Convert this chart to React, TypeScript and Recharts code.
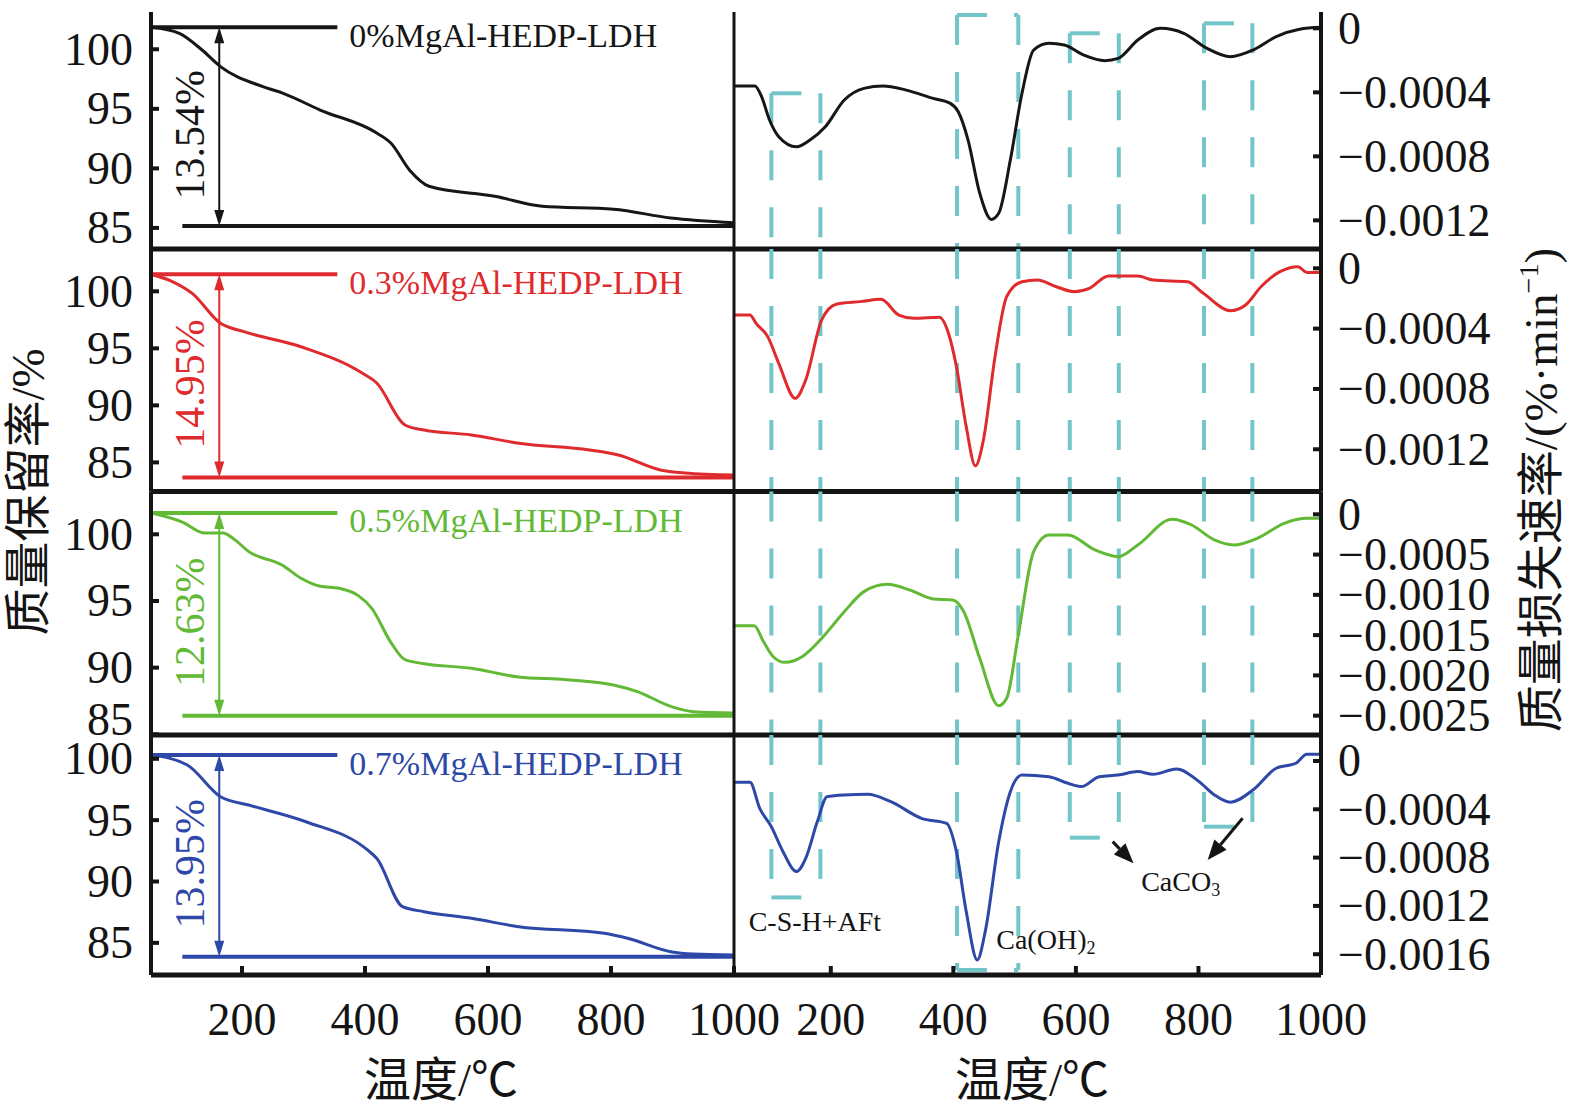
import React from 'react';
import { LineChart, Line, XAxis, YAxis, ReferenceLine, ReferenceDot } from 'recharts';

type Pt = [number, number];

const W = 1575;
const H = 1115;
const SERIF = '"Liberation Serif", "Times New Roman", "Noto Sans CJK SC", serif';
const INK = '#141414';
const BOX_COLOR = '#72c5c9';

// ---- categories / labels ----
const SAMPLES = ['0%MgAl-HEDP-LDH', '0.3%MgAl-HEDP-LDH', '0.5%MgAl-HEDP-LDH', '0.7%MgAl-HEDP-LDH'];
const MASS_LOSS_LABELS = ['13.54%', '14.95%', '12.63%', '13.95%'];
const SAMPLE_COLORS = ['#161616', '#df2a2e', '#62b935', '#2d48a7'];

// ---- ticks ----
const TEMP_TICKS = [200, 400, 600, 800, 1000];
const TG_TICKS = [85, 90, 95, 100];
const DTG_TICKS_A = [0, -0.0004, -0.0008, -0.0012];
const DTG_TICKS_B = [0, -0.0005, -0.001, -0.0015, -0.002, -0.0025];
const DTG_TICKS_C = [0, -0.0004, -0.0008, -0.0012, -0.0016];
const DTG_TICKS = [DTG_TICKS_A, DTG_TICKS_A, DTG_TICKS_B, DTG_TICKS_C];

// ---- axis ranges ----
const TG_T_RANGE = [52, 1000];
const DTG_T_RANGE = [42, 1000];
const TG_RANGES = [[83.23, 103.13], [82.45, 103.71], [84.95, 103.21], [82.38, 101.94]];
const DTG_RANGES = [[-0.001379, 0.000102], [-0.00148, 0.000128], [-0.00274, 0.000283], [-0.001772, 0.000215]];

// ---- TG curves (temperature, mass retention %) ----
const tg0: Pt[] = [[52, 101.85], [98, 101.34], [135, 99.94], [165, 98.54], [234, 96.86], [267, 96.3], [327, 94.9], [419, 92.97], [442, 92.13], [473, 89.82], [504, 88.5], [611, 87.66], [688, 86.82], [804, 86.57], [897, 85.84], [1000, 85.44]];
const tg1: Pt[] = [[52, 101.49], [85, 100.9], [119, 99.82], [165, 97.2], [203, 96.46], [296, 95.14], [396, 92.81], [419, 91.96], [465, 88.28], [496, 87.84], [573, 87.41], [650, 86.68], [765, 86.09], [812, 85.65], [880, 84.34], [920, 84.08], [1000, 83.9]];
const tg2: Pt[] = [[52, 101.6], [104, 100.9], [138, 100.1], [169, 100.1], [188, 99.6], [211, 98.7], [265, 97.7], [296, 96.7], [327, 96.1], [358, 95.95], [389, 95.4], [411, 94.45], [442, 91.9], [465, 90.6], [496, 90.3], [573, 89.95], [650, 89.3], [727, 89.1], [804, 88.7], [843, 88.2], [897, 87.1], [934, 86.7], [1000, 86.6]];
const tg3: Pt[] = [[52, 100.31], [111, 99.49], [165, 96.91], [211, 96.23], [304, 94.87], [404, 92.57], [419, 91.89], [461, 87.95], [496, 87.54], [573, 87.0], [650, 86.32], [789, 85.78], [827, 85.37], [897, 84.28], [934, 84.09], [1000, 84.01]];
const TG_SERIES = [tg0, tg1, tg2, tg3];

// start / end mass levels drawn as horizontal guides
const TG_START_LEVEL = [101.85, 101.49, 101.6, 100.31];
const TG_END_LEVEL = [85.16, 83.67, 86.4, 83.87];
const TG_START_LINE_END_T = 355;
const TG_END_LINE_START_T = 103;
const TG_ARROW_T = 163;

// ---- DTG curves (temperature, mass loss rate %/min) ----
const dtg0: Pt[] = [[42, -3.61e-4], [76, -3.61e-4], [87, -4.27e-4], [100, -5.73e-4], [115, -6.77e-4], [144, -7.4e-4], [166, -6.98e-4], [191, -6.15e-4], [222, -4.48e-4], [254, -3.75e-4], [285, -3.6e-4], [323, -3.86e-4], [367, -4.38e-4], [395, -4.69e-4], [408, -5.21e-4], [424, -6.98e-4], [443, -10.3e-4], [462, -11.94e-4], [474, -11.56e-4], [493, -8.23e-4], [512, -4.06e-4], [531, -1.36e-4], [556, -0.94e-4], [581, -1.04e-4], [613, -1.67e-4], [647, -2.02e-4], [669, -1.88e-4], [701, -0.73e-4], [738, 0], [776, -0.31e-4], [814, -1.25e-4], [852, -1.77e-4], [889, -1.36e-4], [927, -0.52e-4], [965, -0.06e-4], [1000, 0.06e-4]];
const dtg1: Pt[] = [[42, -3.1e-4], [68, -3.1e-4], [78, -3.65e-4], [97, -4.53e-4], [115, -6.3e-4], [142, -8.62e-4], [159, -7.41e-4], [185, -3.43e-4], [210, -2.37e-4], [248, -2.21e-4], [282, -2.06e-4], [311, -3.1e-4], [336, -3.32e-4], [377, -3.25e-4], [392, -4.31e-4], [405, -6.52e-4], [421, -10.5e-4], [436, -13.1e-4], [449, -11.39e-4], [468, -5.86e-4], [487, -1.88e-4], [512, -0.89e-4], [537, -0.78e-4], [568, -1.22e-4], [597, -1.55e-4], [622, -1.33e-4], [653, -0.51e-4], [701, -0.51e-4], [726, -0.78e-4], [782, -0.89e-4], [808, -1.66e-4], [852, -2.81e-4], [877, -2.43e-4], [902, -1.22e-4], [933, -0.22e-4], [962, 0.11e-4], [977, -0.27e-4], [1000, -0.27e-4]];
const dtg2: Pt[] = [[42, -13.83e-4], [75, -13.83e-4], [90, -15.8e-4], [106, -17.68e-4], [125, -18.38e-4], [153, -17.68e-4], [185, -15.4e-4], [222, -12.09e-4], [254, -9.6e-4], [292, -8.69e-4], [329, -9.4e-4], [367, -10.51e-4], [399, -10.64e-4], [417, -12.09e-4], [443, -17.88e-4], [474, -23.76e-4], [487, -22.84e-4], [506, -14.98e-4], [531, -4.64e-4], [556, -2.57e-4], [587, -2.57e-4], [631, -4.43e-4], [669, -5.26e-4], [701, -3.81e-4], [757, -0.62e-4], [789, -1.33e-4], [826, -3.19e-4], [858, -3.81e-4], [896, -2.98e-4], [940, -1.12e-4], [977, -0.5e-4], [1000, -0.5e-4]];
const dtg3: Pt[] = [[42, -1.77e-4], [68, -1.77e-4], [84, -3.92e-4], [103, -5.44e-4], [122, -7.51e-4], [144, -9.16e-4], [159, -8.06e-4], [178, -5.02e-4], [194, -2.95e-4], [222, -2.81e-4], [260, -2.76e-4], [298, -3.37e-4], [348, -4.75e-4], [389, -5.16e-4], [405, -7.51e-4], [421, -12.47e-4], [439, -16.47e-4], [452, -14.13e-4], [474, -6.68e-4], [493, -2.54e-4], [512, -1.16e-4], [556, -1.3e-4], [587, -1.85e-4], [609, -2.12e-4], [638, -1.3e-4], [669, -1.16e-4], [701, -0.88e-4], [726, -1.1e-4], [764, -0.66e-4], [801, -1.71e-4], [826, -2.81e-4], [852, -3.42e-4], [889, -2.4e-4], [927, -0.6e-4], [959, -0.19e-4], [977, 0.55e-4], [1000, 0.55e-4]];
const DTG_SERIES = [dtg0, dtg1, dtg2, dtg3];

// ---- dashed boxes marking decomposition ranges: [row, value] top and bottom ----
const BOXES = [
  { t1: 103, t2: 183, top: [0, -4.06e-4], bottom: [3, -11.3e-4] },
  { t1: 406, t2: 506, top: [0, 0.83e-4], bottom: [3, -17.3e-4] },
  { t1: 590, t2: 670, top: [0, -0.31e-4], bottom: [3, -6.35e-4] },
  { t1: 809, t2: 888, top: [0, 0.31e-4], bottom: [3, -5.44e-4] },
];

// ---- annotations in the bottom DTG panel ----
const NOTES = [
  { text: 'C-S-H+AFt', sub: '', t: 174, v: -13.33e-4 },
  { text: 'Ca(OH)', sub: '2', t: 551, v: -14.8e-4 },
  { text: 'CaCO', sub: '3', t: 771, v: -10.0e-4 },
];
const POINTERS = [
  { from: [660, -6.68e-4], to: [694, -8.47e-4] },
  { from: [872, -4.74e-4], to: [815, -8.2e-4] },
];

// ---- layout ----
const ROW_EDGES = [12, 249, 491.5, 735, 975];
const LEFT_PLOT = [151, 734];
const RIGHT_PLOT = [734, 1321];
const TICK_FONT = 46;
const AX = 1; // axis band thickness (must be > 0 for axes to draw)

const fmtDtg = (v: number) => (v === 0 ? '0' : '\u2212' + Math.abs(v).toFixed(4));

// left tick: inward tick mark; a label sitting on the row's lower edge is lifted above the separator
const leftTick = (margin: number, rowBottom: number) => (p: any) => {
  const ax = p.x + margin;
  const lift = p.y > rowBottom - 8 ? -15 : 0;
  return (
    <g>
      <line x1={ax} x2={ax + 8} y1={p.y} y2={p.y} stroke={INK} strokeWidth={4} />
      <text x={p.x} y={p.y + lift} textAnchor="end" dominantBaseline="central" fontSize={TICK_FONT} fontFamily={SERIF} fill={INK}>
        {p.payload.value}
      </text>
    </g>
  );
};

const rightTick = (margin: number) => (p: any) => {
  const ax = p.x - margin;
  return (
    <g>
      <line x1={ax} x2={ax - 8} y1={p.y} y2={p.y} stroke={INK} strokeWidth={4} />
      <text x={p.x} y={p.y} textAnchor="start" dominantBaseline="central" fontSize={TICK_FONT} fontFamily={SERIF} fill={INK}>
        {fmtDtg(p.payload.value)}
      </text>
    </g>
  );
};

const bottomTick = (margin: number) => (p: any) => {
  const ay = p.y - margin;
  return (
    <g>
      <line x1={p.x} x2={p.x} y1={ay} y2={ay - 9} stroke={INK} strokeWidth={4} />
      <text x={p.x} y={p.y} textAnchor="middle" dominantBaseline="central" fontSize={TICK_FONT} fontFamily={SERIF} fill={INK}>
        {p.payload.value}
      </text>
    </g>
  );
};

const startLineShape = (label: string, color: string) => (p: any) => (
  <g>
    <line x1={p.x1} y1={p.y1} x2={p.x2} y2={p.y2} stroke={color} strokeWidth={4} />
    <text x={p.x2 + 12} y={p.y2 + 8} dominantBaseline="central" fontSize={34} fontFamily={SERIF} fill={color}>
      {label}
    </text>
  </g>
);

const plainLineShape = (color: string, width: number) => (p: any) => (
  <line x1={p.x1} y1={p.y1} x2={p.x2} y2={p.y2} stroke={color} strokeWidth={width} />
);

const lossArrowShape = (label: string, color: string) => (p: any) => {
  const x = p.x1;
  const y1 = Math.min(p.y1, p.y2);
  const y2 = Math.max(p.y1, p.y2);
  const hl = 16;
  const hw = 5;
  return (
    <g>
      <line x1={x} x2={x} y1={y1 + hl - 2} y2={y2 - hl + 2} stroke={color} strokeWidth={2} />
      <polygon points={`${x},${y1} ${x - hw},${y1 + hl} ${x + hw},${y1 + hl}`} fill={color} />
      <polygon points={`${x},${y2} ${x - hw},${y2 - hl} ${x + hw},${y2 - hl}`} fill={color} />
      <text
        transform={`translate(${x - 29},${(y1 + y2) / 2 + 8}) rotate(-90)`}
        textAnchor="middle"
        dominantBaseline="central"
        fontSize={42}
        fontFamily={SERIF}
        fill={color}
      >
        {label}
      </text>
    </g>
  );
};

const pointerShape = (p: any) => {
  const dx = p.x2 - p.x1;
  const dy = p.y2 - p.y1;
  const len = Math.hypot(dx, dy) || 1;
  const ux = dx / len;
  const uy = dy / len;
  const hl = 20;
  const hw = 8;
  const bx = p.x2 - ux * hl;
  const by = p.y2 - uy * hl;
  return (
    <g>
      <line x1={p.x1} y1={p.y1} x2={bx} y2={by} stroke={INK} strokeWidth={3} />
      <polygon points={`${p.x2},${p.y2} ${bx - uy * hw},${by + ux * hw} ${bx + uy * hw},${by - ux * hw}`} fill={INK} />
    </g>
  );
};

const noteShape = (text: string, sub: string) => (p: any) => (
  <text x={p.cx} y={p.cy} textAnchor="middle" dominantBaseline="central" fontSize={28} fontFamily={SERIF} fill={INK}>
    {text}
    {sub ? (
      <tspan fontSize={18} dy={8}>
        {sub}
      </tspan>
    ) : null}
  </text>
);

function boxSegments(row: number) {
  const [lo, hi] = DTG_RANGES[row];
  const segs: { x: number; y: number }[][] = [];
  BOXES.forEach((b) => {
    if (row < b.top[0] || row > b.bottom[0]) return;
    const yTop = row === b.top[0] ? b.top[1] : hi;
    const yBot = row === b.bottom[0] ? b.bottom[1] : lo;
    segs.push([{ x: b.t1, y: yTop }, { x: b.t1, y: yBot }]);
    segs.push([{ x: b.t2, y: yTop }, { x: b.t2, y: yBot }]);
    if (row === b.top[0]) segs.push([{ x: b.t1, y: b.top[1] }, { x: b.t2, y: b.top[1] }]);
    if (row === b.bottom[0]) segs.push([{ x: b.t1, y: b.bottom[1] }, { x: b.t2, y: b.bottom[1] }]);
  });
  return segs;
}

const layer: React.CSSProperties = { position: 'absolute', left: 0, top: 0 };

function TgRow({ i }: { i: number }) {
  const top = ROW_EDGES[i];
  const bottom = ROW_EDGES[i + 1];
  const data = TG_SERIES[i].map(([t, v]) => ({ t, v }));
  const color = SAMPLE_COLORS[i];
  const last = i === 3;
  return (
    <div style={layer}>
      <LineChart
        width={W}
        height={H}
        data={data}
        margin={{ top, bottom: H - bottom - AX, left: LEFT_PLOT[0] - AX, right: W - LEFT_PLOT[1] }}
      >
        <XAxis
          dataKey="t"
          type="number"
          domain={TG_T_RANGE}
          ticks={TEMP_TICKS}
          allowDataOverflow
          height={AX}
          interval={0}
          axisLine={{ stroke: INK, strokeWidth: 5 }}
          tickLine={false}
          tickSize={0}
          tickMargin={44}
          tick={last ? bottomTick(44) : false}
        />
        <YAxis
          type="number"
          domain={TG_RANGES[i]}
          ticks={TG_TICKS}
          allowDataOverflow
          width={AX}
          interval={0}
          axisLine={{ stroke: INK, strokeWidth: 4 }}
          tickLine={false}
          tickSize={0}
          tickMargin={18}
          tick={leftTick(18, bottom)}
        />
        <ReferenceLine
          ifOverflow="visible"
          segment={[
            { x: TG_T_RANGE[0], y: TG_START_LEVEL[i] },
            { x: TG_START_LINE_END_T, y: TG_START_LEVEL[i] },
          ]}
          shape={startLineShape(SAMPLES[i], color)}
        />
        <ReferenceLine
          ifOverflow="visible"
          segment={[
            { x: TG_END_LINE_START_T, y: TG_END_LEVEL[i] },
            { x: TG_T_RANGE[1], y: TG_END_LEVEL[i] },
          ]}
          shape={plainLineShape(color, 4)}
        />
        <ReferenceLine
          ifOverflow="visible"
          segment={[
            { x: TG_ARROW_T, y: TG_START_LEVEL[i] },
            { x: TG_ARROW_T, y: TG_END_LEVEL[i] },
          ]}
          shape={lossArrowShape(MASS_LOSS_LABELS[i], color)}
        />
        <Line dataKey="v" type="monotone" stroke={color} strokeWidth={3} dot={false} isAnimationActive={false} />
      </LineChart>
    </div>
  );
}

function DtgRow({ i }: { i: number }) {
  const top = ROW_EDGES[i];
  const bottom = ROW_EDGES[i + 1];
  const data = DTG_SERIES[i].map(([t, v]) => ({ t, v }));
  const color = SAMPLE_COLORS[i];
  const last = i === 3;
  return (
    <div style={layer}>
      <LineChart
        width={W}
        height={H}
        data={data}
        margin={{ top, bottom: H - bottom - AX, left: RIGHT_PLOT[0] - AX, right: W - RIGHT_PLOT[1] - AX }}
      >
        <XAxis
          dataKey="t"
          type="number"
          domain={DTG_T_RANGE}
          ticks={TEMP_TICKS}
          allowDataOverflow
          height={AX}
          interval={0}
          axisLine={{ stroke: INK, strokeWidth: 5 }}
          tickLine={false}
          tickSize={0}
          tickMargin={44}
          tick={last ? bottomTick(44) : false}
        />
        <YAxis
          yAxisId="divider"
          orientation="left"
          type="number"
          domain={DTG_RANGES[i]}
          allowDataOverflow
          width={AX}
          axisLine={{ stroke: INK, strokeWidth: 3 }}
          tickLine={false}
          tick={false}
        />
        <YAxis
          yAxisId="rate"
          orientation="right"
          type="number"
          domain={DTG_RANGES[i]}
          ticks={DTG_TICKS[i]}
          allowDataOverflow
          width={AX}
          interval={0}
          axisLine={{ stroke: INK, strokeWidth: 4 }}
          tickLine={false}
          tickSize={0}
          tickMargin={17}
          tick={rightTick(17)}
        />
        {boxSegments(i).map((seg, k) => (
          <ReferenceLine
            key={'box' + k}
            yAxisId="rate"
            ifOverflow="visible"
            segment={seg}
            stroke={BOX_COLOR}
            strokeWidth={4}
            strokeDasharray="30 27"
          />
        ))}
        {last
          ? POINTERS.map((a, k) => (
              <ReferenceLine
                key={'ptr' + k}
                yAxisId="rate"
                ifOverflow="visible"
                segment={[
                  { x: a.from[0], y: a.from[1] },
                  { x: a.to[0], y: a.to[1] },
                ]}
                shape={pointerShape}
              />
            ))
          : null}
        {last
          ? NOTES.map((n, k) => (
              <ReferenceDot
                key={'note' + k}
                yAxisId="rate"
                ifOverflow="visible"
                x={n.t}
                y={n.v}
                r={0}
                shape={noteShape(n.text, n.sub)}
              />
            ))
          : null}
        <Line
          yAxisId="rate"
          dataKey="v"
          type="monotone"
          stroke={color}
          strokeWidth={3}
          dot={false}
          isAnimationActive={false}
        />
      </LineChart>
    </div>
  );
}

const titleBase: React.CSSProperties = {
  position: 'absolute',
  whiteSpace: 'nowrap',
  fontSize: 47,
  lineHeight: 1,
  fontFamily: SERIF,
  color: INK,
};

export default function App() {
  return (
    <div
      style={{
        position: 'absolute',
        left: 0,
        top: 0,
        width: W,
        height: H,
        background: '#ffffff',
        overflow: 'hidden',
        fontFamily: SERIF,
      }}
    >
      {[0, 1, 2, 3].map((i) => (
        <TgRow key={'tg' + i} i={i} />
      ))}
      {[0, 1, 2, 3].map((i) => (
        <DtgRow key={'dtg' + i} i={i} />
      ))}
      <div style={{ ...titleBase, left: 28, top: 492, transform: 'translate(-50%, -50%) rotate(-90deg)' }}>
        质量保留率/%
      </div>
      <div style={{ ...titleBase, left: 1540, top: 490, transform: 'translate(-50%, -50%) rotate(-90deg)' }}>
        质量损失速率/(%·min
        <span style={{ fontSize: '0.6em', verticalAlign: '0.7em' }}>−1</span>)
      </div>
      <div style={{ ...titleBase, left: 441, top: 1080, transform: 'translate(-50%, -50%)' }}>温度/℃</div>
      <div style={{ ...titleBase, left: 1032, top: 1080, transform: 'translate(-50%, -50%)' }}>温度/℃</div>
    </div>
  );
}
